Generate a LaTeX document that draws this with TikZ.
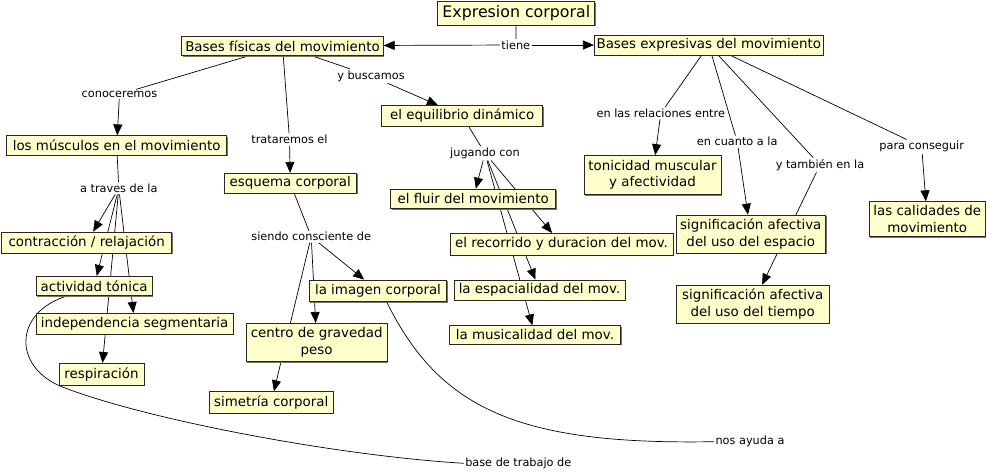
\documentclass[tikz,border=0pt]{standalone}
\usepackage{fontspec}
\setmainfont{DejaVu Sans}
\usetikzlibrary{arrows.meta,backgrounds,shadows,calc}
\definecolor{cmapyellow}{RGB}{255,255,204}
\begin{document}
\begin{tikzpicture}[x=1pt,y=-1pt,
  concept/.style={draw=black!85, line width=0.7pt, fill=cmapyellow, inner sep=0pt, align=center,
    font=\fontsize{13.4}{16.5}\selectfont,
    drop shadow={shadow xshift=1pt,shadow yshift=-1pt,fill=black!55,opacity=1}},
  sz/.style 2 args={minimum width=#1pt, minimum height=#2pt},
  link/.style={inner sep=1.5pt, font=\fontsize{11.3}{13}\selectfont},
  conn/.style={line width=0.7pt, draw=black},
  arr/.style={conn, -{Triangle[length=11pt,width=9pt]}}]
\useasboundingbox (0,0) rectangle (987,476);

% concepts
\node[concept, sz={157}{23.5}, font=\fontsize{15.8}{18}\selectfont] (title) at (516.3,13.4) {Expresion corporal};
\node[concept, sz={201.6}{19.5}] (bf) at (282.5,45.8) {Bases físicas del movimiento};
\node[concept, sz={229}{20}] (be) at (708.8,45) {Bases expresivas del movimiento};
\node[concept, sz={220}{19.5}] (musc) at (116.7,145.5) {los músculos en el movimiento};
\node[concept, sz={132.7}{20}] (esq) at (290.3,183.3) {esquema corporal};
\node[concept, sz={161}{20.5}] (equi) at (462.2,115.8) {el equilibrio dinámico};
\node[concept, sz={165}{19.5}] (fluir) at (473.2,198.8) {el fluir del movimiento};
\node[concept, sz={223}{21.7}] (reco) at (561.5,244.2) {el recorrido y duracion del mov.};
\node[concept, sz={171}{20}] (espa) at (539.5,290) {la espacialidad del mov.};
\node[concept, sz={171}{18.5}] (musi) at (535,335) {la musicalidad del mov.};
\node[concept, sz={170}{21}] (contr) at (86.7,242.5) {contracción / relajación};
\node[concept, sz={116.3}{19.5}] (activ) at (94.2,286) {actividad tónica};
\node[concept, sz={197.3}{20.7}] (indep) at (134.7,323.7) {independencia segmentaria};
\node[concept, sz={85}{21.7}] (resp) at (101.5,374.2) {respiración};
\node[concept, sz={137.3}{21.7}] (imag) at (378,290.8) {la imagen corporal};
\node[concept, sz={141.3}{38.3}] (centro) at (316.7,342.5) {centro de gravedad\\peso};
\node[concept, sz={124.3}{21.7}] (sime) at (271.2,402.5) {simetría corporal};
\node[concept, sz={137}{39}] (toni) at (652.5,175) {tonicidad muscular\\y afectividad};
\node[concept, sz={149.7}{38.3}] (sigesp) at (750.8,234.2) {significación afectiva\\del uso del espacio};
\node[concept, sz={153.3}{38.3}] (sigtie) at (752.7,304.2) {significación afectiva\\del uso del tiempo};
\node[concept, sz={115.7}{35}] (calid) at (927.2,219.2) {las calidades de\\movimiento};

% linking phrases
\node[link] (tiene) at (515.8,45) {tiene};
\node[link] (conoc) at (119.5,94.3) {conoceremos};
\node[link] (trat) at (289.5,139.3) {trataremos el};
\node[link] (ybusc) at (371,76) {y buscamos};
\node[link] (jug) at (485,153.3) {jugando con};
\node[link] (atrav) at (118.8,188.3) {a traves de la};
\node[link] (siendo) at (311.2,236.7) {siendo consciente de};
\node[link] (relac) at (660.8,113.3) {en las relaciones entre};
\node[link] (cuanto) at (737.2,141.7) {en cuanto a la};
\node[link] (tamb) at (820,165) {y también en la};
\node[link] (conseg) at (921.7,146.7) {para conseguir};
\node[link] (nosay) at (750,441.7) {nos ayuda a};
\node[link] (basetr) at (518.3,463.3) {base de trabajo de};

\begin{scope}[on background layer]
\draw[conn] (title) -- (tiene);
\draw[arr] (tiene) -- (bf);
\draw[arr] (tiene) -- (be);
\draw[conn] (bf) -- (conoc);
\draw[arr] (conoc) -- (musc);
\draw[conn] (bf) -- (trat);
\draw[arr] (trat) -- (esq);
\draw[conn] (bf) -- (ybusc);
\draw[arr] (ybusc) -- (equi);
\draw[conn] (equi) -- (jug);
\draw[arr] (jug) -- (fluir);
\draw[arr] (jug) -- (reco);
\draw[arr] (jug) -- (espa);
\draw[arr] (jug) -- (musi);
\draw[conn] (musc) -- (atrav);
\draw[arr] (atrav) -- (contr);
\draw[arr] (atrav) -- (activ);
\draw[arr] (atrav) -- (indep);
\draw[arr] (atrav) -- (resp);
\draw[conn] (esq) -- (siendo);
\draw[arr] (siendo) -- (imag);
\draw[arr] (siendo) -- (centro);
\draw[arr] (siendo) -- (sime);
\draw[conn] (be) -- (relac);
\draw[arr] (relac) -- (toni);
\draw[conn] (be) -- (cuanto);
\draw[arr] (cuanto) -- (sigesp);
\draw[conn] (be) -- (tamb);
\draw[arr] (tamb) -- (sigtie);
\draw[conn] (be) -- (conseg);
\draw[arr] (conseg) -- (calid);
% curved links
\coordinate (activout) at ($(activ.south)+(-27.5,0)$);
\coordinate (imagout) at ($(imag.south)+(8.7,0)$);
\draw[conn] (activout) .. controls (15,312) and (12,365) .. (60,386)
  .. controls (140,418) and (330,455) .. (basetr.west);
\draw[conn] (imagout) .. controls (440,410) and (520,445) .. (nosay.west);
\end{scope}
\end{tikzpicture}
\end{document}
